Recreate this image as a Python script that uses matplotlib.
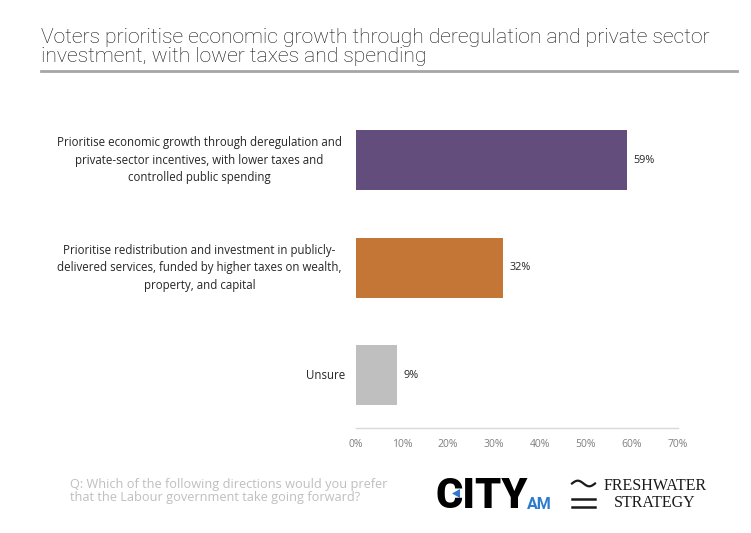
import matplotlib
matplotlib.use("Agg")
import matplotlib.pyplot as plt
import matplotlib.transforms as mtransforms
from matplotlib.patches import Polygon
import numpy as np

categories = [
    "Prioritise economic growth through deregulation and\nprivate-sector incentives, with lower taxes and\ncontrolled public spending",
    "Prioritise redistribution and investment in publicly-\ndelivered services, funded by higher taxes on wealth,\nproperty, and capital",
    "Unsure",
]
values = [59, 32, 9]
value_labels = ["59%", "32%", "9%"]
colors = ["#624D7C", "#C37635", "#BFBFBF"]
xticks = [0, 10, 20, 30, 40, 50, 60, 70]
xtick_labels = ["0%", "10%", "20%", "30%", "40%", "50%", "60%", "70%"]
title_lines = ["Voters prioritise economic growth through deregulation and private sector",
               "investment, with lower taxes and spending"]
question = "Q: Which of the following directions would you prefer\nthat the Labour government take going forward?"

plt.rcParams['font.family'] = ['Open Sans', 'DejaVu Sans']

W, H = 751, 533
fig = plt.figure(figsize=(W / 100, H / 100), dpi=100)

def fx(px):
    return px / W

def fy(py):
    return 1 - py / H

ax = fig.add_axes([fx(356), fy(428), fx(678) - fx(356), fy(95.5) - fy(428)])
ypos = list(range(len(values)))
ax.barh(ypos, values, height=0.56, color=colors)
ax.set_xlim(0, 70)
ax.set_ylim(2.49, -0.6)
for s in ["top", "right", "left"]:
    ax.spines[s].set_visible(False)
ax.spines["bottom"].set_color("#D9D9D9")
ax.spines["bottom"].set_linewidth(1.0)
ax.set_xticks(xticks)
ax.set_xticklabels(xtick_labels, fontsize=7.5, color="#7F7F7F")
ax.tick_params(axis="x", length=0, pad=8)
ax.set_yticks([])

for y, v, lab in zip(ypos, values, value_labels):
    ax.text(v + 1.4, y, lab, va="center", ha="left", fontsize=7.8, color="#262626")

trans = mtransforms.blended_transform_factory(fig.transFigure, ax.transData)
for y, cat in zip(ypos, categories):
    if "\n" in cat:
        ax.text(fx(199.5), y, cat, transform=trans, ha="center", va="center",
                fontsize=8.3, color="#262626", linespacing=1.45)
    else:
        ax.text(fx(345), y, cat, transform=trans, ha="right", va="center",
                fontsize=8.3, color="#262626")

for line, base in zip(title_lines, [43, 62]):
    fig.text(fx(41), fy(base), line, ha="left", va="baseline", fontsize=15.2,
             fontweight="light", color="#141414", family=["Roboto", "DejaVu Sans"])
fig.add_artist(plt.Line2D([fx(41), fx(737)], [fy(71), fy(71)], color="#A6A6A6", lw=2))

fig.text(fx(70), fy(478), question, ha="left", va="top", fontsize=9.2, color="#BFBFBF",
         linespacing=0.95)

# CITY AM logo
fig.text(fx(435), fy(508.5), "CITY", ha="left", va="baseline", fontsize=30, fontweight="black",
         color="#000000", family=["Roboto", "DejaVu Sans"])
fig.add_artist(Polygon([[fx(452), fy(493.5)], [fx(460), fy(489)], [fx(460), fy(498)]],
                       closed=True, facecolor="#2D7BD0", edgecolor="none",
                       transform=fig.transFigure))
fig.text(fx(527), fy(509), "AM", ha="left", va="baseline", fontsize=11.5, fontweight="bold",
         color="#2D7BD0", family=["Roboto", "DejaVu Sans"])

# Freshwater strategy logo
tx = np.linspace(572, 595, 40)
ty = 483.5 - 2.8 * np.sin((tx - 572) / 23 * 2 * np.pi)
fig.add_artist(plt.Line2D(fx(tx), fy(ty), color="#1A1A1A", lw=1.6))
fig.add_artist(plt.Line2D([fx(572), fx(595)], [fy(499), fy(499)], color="#1A1A1A", lw=1.8))
fig.add_artist(plt.Line2D([fx(572), fx(595)], [fy(506.5), fy(506.5)], color="#1A1A1A", lw=1.8))
fig.text(fx(655), fy(486), "FRESHWATER", ha="center", va="center", fontsize=11.5,
         color="#1A1A1A", family=["Liberation Serif", "DejaVu Serif"])
fig.text(fx(655), fy(503), "STRATEGY", ha="center", va="center", fontsize=11.5,
         color="#1A1A1A", family=["Liberation Serif", "DejaVu Serif"])

fig.savefig("out.png", dpi=100, facecolor="white")
